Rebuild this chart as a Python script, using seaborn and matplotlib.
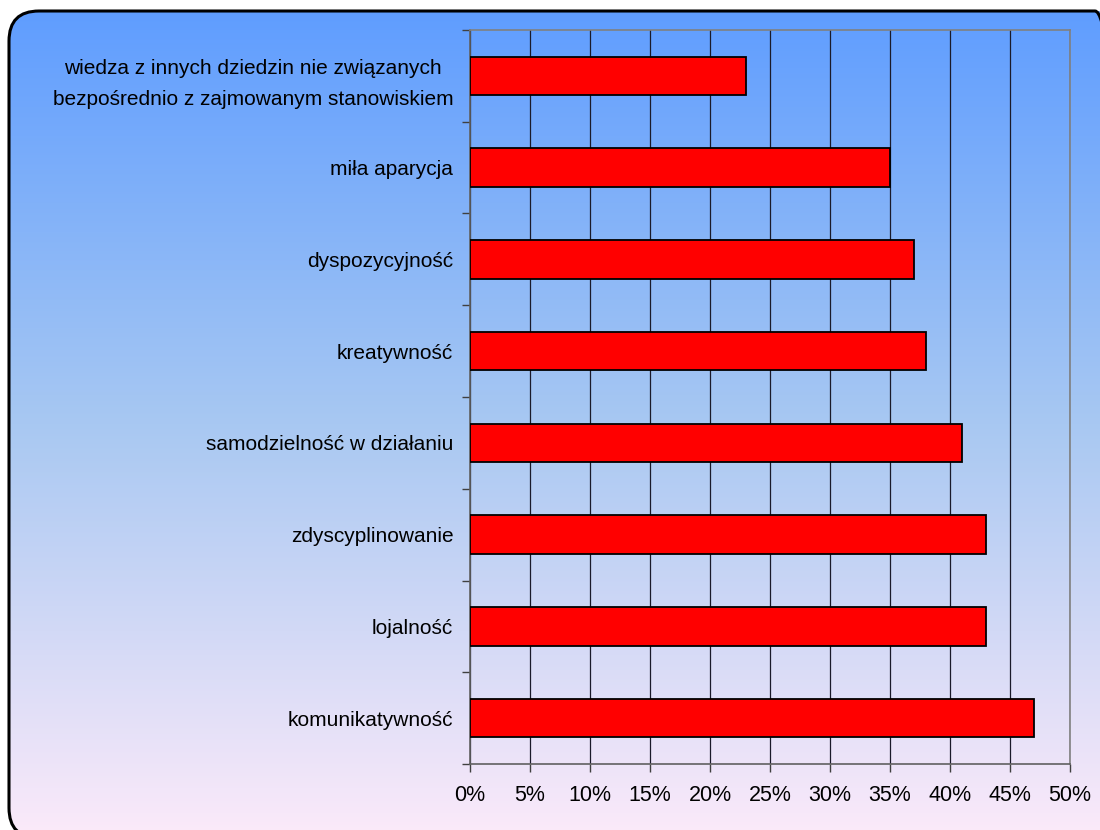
import numpy as np
import pandas as pd
import matplotlib
matplotlib.use("Agg")
import matplotlib.pyplot as plt
import seaborn as sns
from matplotlib.patches import FancyBboxPatch
from matplotlib.ticker import PercentFormatter

categories = [
    "wiedza z innych dziedzin nie związanych\nbezpośrednio z zajmowanym stanowiskiem",
    "miła aparycja",
    "dyspozycyjność",
    "kreatywność",
    "samodzielność w działaniu",
    "zdyscyplinowanie",
    "lojalność",
    "komunikatywność",
]
values = [23, 35, 37, 38, 41, 43, 43, 47]
x_ticks = [0, 5, 10, 15, 20, 25, 30, 35, 40, 45, 50]

df = pd.DataFrame({"cecha": categories, "procent": values})

sns.set_theme(style="white")
plt.rcParams["font.family"] = ["Liberation Sans", "DejaVu Sans"]

W, H = 1100, 830
fig = plt.figure(figsize=(W / 100, H / 100), dpi=100)

# background panel with vertical gradient and rounded border (pixel units, origin bottom-left)
bg = fig.add_axes([0, 0, 1, 1], zorder=-10)
bg.set_xlim(0, W)
bg.set_ylim(0, H)
bg.axis("off")
top = np.array([95, 157, 255]) / 255
mid = np.array([168, 200, 242]) / 255
bot = np.array([252, 234, 250]) / 255
t = np.linspace(0, 1, 400)[:, None]
grad = np.where(t < 0.5, top + (mid - top) * (t / 0.5), mid + (bot - mid) * ((t - 0.5) / 0.5))
img = np.repeat(grad[:, None, :], 2, axis=1)
left, right = 9, 1125
upper, lower = H - 11, -8
box = FancyBboxPatch((left, lower), right - left, upper - lower,
                     boxstyle="round,pad=0,rounding_size=30",
                     facecolor="none", edgecolor="black", linewidth=2.2, zorder=2,
                     clip_on=False)
bg.add_patch(box)
im = bg.imshow(img, extent=[left, right, lower, upper], origin="upper", aspect="auto", zorder=0)
im.set_clip_path(box)

ax = fig.add_axes([470 / W, 1 - 764 / H, 600 / W, (764 - 30) / H])
ax.patch.set_alpha(0)
sns.barplot(data=df, x="procent", y="cecha", orient="h", color="#FF0000",
            edgecolor="black", linewidth=1.3, width=0.42, saturation=1, ax=ax, zorder=3)

ax.set_xlim(0, 50)
ax.set_ylim(len(categories) - 0.5, -0.5)
ax.set_xticks(x_ticks)
ax.xaxis.set_major_formatter(PercentFormatter(decimals=0))
ax.grid(axis="x", color="#1a1a2a", linewidth=0.9, zorder=0)
ax.set_axisbelow(True)
ax.set_xlabel("")
ax.set_ylabel("")

for side in ["top", "right"]:
    ax.spines[side].set_color("#808080")
    ax.spines[side].set_linewidth(1.2)
for side in ["left", "bottom"]:
    ax.spines[side].set_color("#606060")
    ax.spines[side].set_linewidth(1.2)
    ax.spines[side].set_visible(True)

# y ticks at category boundaries, labels centred on the bars
ax.set_yticks(np.arange(-0.5, len(categories), 1.0))
ax.set_yticklabels([])
ax.set_yticks(np.arange(len(categories)), minor=True)
ax.set_yticklabels(categories, minor=True)
ax.tick_params(axis="y", which="major", length=6, width=1, color="#404040", direction="out", left=True)
ax.tick_params(axis="y", which="minor", length=0, pad=12, labelsize=15, labelcolor="black")
ax.tick_params(axis="x", length=6, width=1, color="#404040", direction="out", bottom=True,
               pad=9, labelsize=15.5, labelcolor="black")
for lab in ax.get_yticklabels(minor=True):
    lab.set_multialignment("center")
    lab.set_linespacing(1.8)

fig.savefig("out.png", dpi=100)
